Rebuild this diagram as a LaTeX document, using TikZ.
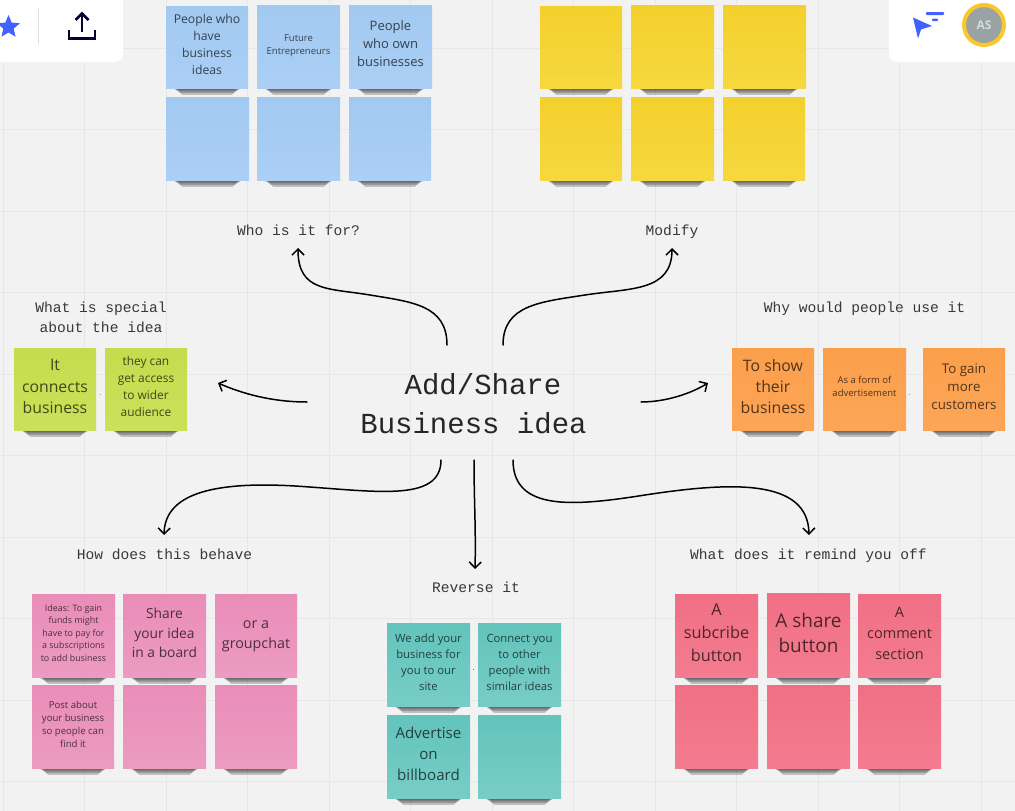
\documentclass[tikz,border=0pt]{standalone}
\usepackage{fontspec}
\setmainfont{Open Sans}
\setmonofont{Liberation Mono}
\usetikzlibrary{arrows.meta,shapes.geometric}
\definecolor{bgc}{HTML}{F2F2F2}
\definecolor{gridc}{HTML}{E7E7E7}
\definecolor{blueA}{HTML}{A2C9F1}\definecolor{blueB}{HTML}{ABCFF5}
\definecolor{yelA}{HTML}{F3D02C}\definecolor{yelB}{HTML}{F6D83E}
\definecolor{grnA}{HTML}{C5DC4E}\definecolor{grnB}{HTML}{CCE05A}
\definecolor{orgA}{HTML}{FB9F4B}\definecolor{orgB}{HTML}{FDA557}
\definecolor{pnkA}{HTML}{E98DB8}\definecolor{pnkB}{HTML}{EC9BC1}
\definecolor{tealA}{HTML}{62C4BC}\definecolor{tealB}{HTML}{77CDC6}
\definecolor{redA}{HTML}{F06F84}\definecolor{redB}{HTML}{F47C90}
\definecolor{iconblue}{HTML}{4262FF}
\definecolor{iconnavy}{HTML}{050038}
\definecolor{ringc}{HTML}{FAC82D}
\definecolor{avatarc}{HTML}{9AA3A3}
\tikzset{
  fs/.style 2 args={font=\fontsize{#1}{#2}\selectfont},
  note/.style 2 args={top color=#1,bottom color=#2,inner sep=0pt},
  notetext/.style={inner sep=0pt,align=center,text=black,text opacity=.68,yshift=2.5pt},
  bluenote/.style={note={blueA}{blueB}},
  yellownote/.style={note={yelA}{yelB}},
  greennote/.style={note={grnA}{grnB}},
  orangenote/.style={note={orgA}{orgB}},
  pinknote/.style={note={pnkA}{pnkB}},
  tealnote/.style={note={tealA}{tealB}},
  rednote/.style={note={redA}{redB}},
  heading/.style={font=\ttfamily\fontsize{14.6}{20}\selectfont,text=black!78,align=center,inner sep=0pt},
  title/.style={font=\ttfamily\fontsize{29}{39}\selectfont,text=black!85,inner sep=0pt},
  link/.style={draw=black,line width=1.5pt,line cap=round,-{Straight Barb[length=6pt,width=12pt,line width=1.5pt]}},
  panel/.style={fill=white,rounded corners=8pt},
  speck/.style={fill=black!40},
  shadowstrip/.style={fill=black,opacity=.2}
}
\newcommand\shadowlayer[4]{% x0 x1 y1 layer
  \fill[shadowstrip] ({#1+#4*2+2},{#3-1}) -- ({#1+#4*2+8},{#3+#4*1.7}) -- ({#2-#4*2-8},{#3+#4*1.7}) -- ({#2-#4*2-2},{#3-1}) -- cycle;
}
\newcommand\sticky[8]{%
  \shadowlayer{#2}{#4}{#5}{1}
  \shadowlayer{#2}{#4}{#5}{2}
  \shadowlayer{#2}{#4}{#5}{3}
  \shadowlayer{#2}{#4}{#5}{4}
  \node[#6,minimum width={(#4-#2)*1pt},minimum height={(#5-#3)*1pt}] (#1) at ({(#2+#4)/2},{(#3+#5)/2}) {};
  \if\relax\detokenize{#8}\relax\else
    \node[notetext,#7] (#1text) at (#1.center) {#8};
  \fi
}
\begin{document}
\begin{tikzpicture}[x=1pt,y=-1pt]
\useasboundingbox (0,0) rectangle (1015,811);
\begin{scope}
\clip (0,0) rectangle (1015,811);
\fill[bgc] (0,0) rectangle (1015,811);
\foreach \k in {0,...,12} \draw[gridc,line width=.8pt] ({3+81.5*\k},0) -- ({3+81.5*\k},811);
\foreach \k in {0,...,9} \draw[gridc,line width=.8pt] (0,{48+81.5*\k}) -- (1015,{48+81.5*\k});
% toolbars
\fill[panel] (-12,-12) rectangle (123,62);
\fill[panel] (889,-12) rectangle (1027,62);
\node[star,star points=5,star point ratio=2.2,fill=iconblue,minimum size=24pt,inner sep=0pt] (favstar) at (8.5,27) {};
\draw[black!12,line width=.8pt] (38.5,8) -- (38.5,44);
\draw[iconnavy,line width=2.6pt] (69,30) -- (69,38.5) -- (95,38.5) -- (95,30);
\draw[iconnavy,line width=2.6pt] (82,32) -- (82,14);
\draw[iconnavy,line width=2.6pt] (75.5,20) -- (82,13.5) -- (88.5,20);
\fill[iconblue] (913,17.5) -- (932,26) -- (921,29.5) -- (918,38.5) -- cycle;
\fill[iconblue,rounded corners=.8pt] (926,12) rectangle (944,15);
\fill[iconblue,rounded corners=.8pt] (932,18.5) rectangle (938,21);
\node[circle,fill=avatarc,draw=ringc,line width=4pt,minimum size=40pt,inner sep=0pt,text=white,text opacity=.6,font=\bfseries\fontsize{12}{14}\selectfont] (avatar) at (984,25) {AS};
% blue
\sticky{b1}{166}{6}{248}{88}{bluenote}{fs={12.2}{17.2}}{People who\\have\\business\\ideas}
\sticky{b2}{257}{5}{340}{88}{bluenote}{fs={9.5}{13.2},yshift=-2pt}{Future\\Entrepreneurs}
\sticky{b3}{349}{5}{432}{88}{bluenote}{fs={13}{18}}{People\\who own\\businesses}
\sticky{b4}{166}{97}{249}{180}{bluenote}{}{}
\sticky{b5}{257}{97}{340}{180}{bluenote}{}{}
\sticky{b6}{349}{97}{431}{180}{bluenote}{}{}
% yellow
\sticky{y1}{540}{6}{622}{88}{yellownote}{}{}
\sticky{y2}{631}{5}{714}{88}{yellownote}{}{}
\sticky{y3}{723}{5}{806}{88}{yellownote}{}{}
\sticky{y4}{540}{97}{622}{180}{yellownote}{}{}
\sticky{y5}{631}{97}{714}{180}{yellownote}{}{}
\sticky{y6}{723}{97}{805}{180}{yellownote}{}{}
% green
\sticky{g1}{14}{348}{96}{430}{greennote}{fs={15.8}{21.3}}{It\\connects\\business}
\sticky{g2}{105}{348}{187}{430}{greennote}{fs={11.9}{17.2}}{they can\\get access\\to wider\\audience}
% orange
\sticky{o1}{732}{348}{814}{430}{orangenote}{fs={15.8}{21.3}}{To show\\their\\business}
\sticky{o2}{823}{348}{906}{430}{orangenote}{fs={9.5}{13}}{As a form of\\advertisement}
\sticky{o3}{923}{348}{1005}{430}{orangenote}{fs={13.3}{18}}{To gain\\more\\customers}
% pink
\sticky{p1}{32}{594}{115}{677}{pinknote}{fs={8.9}{12.4}}{Ideas: To gain\\funds might\\have to pay for\\a subscriptions\\to add business}
\sticky{p2}{123}{594}{206}{677}{pinknote}{fs={13.8}{19.5}}{Share\\your idea\\in a board}
\sticky{p3}{215}{594}{297}{677}{pinknote}{fs={14.3}{20},yshift=-3.5pt}{or a\\groupchat}
\sticky{p4}{32}{685}{114}{768}{pinknote}{fs={9.6}{13}}{Post about\\your business\\so people can\\find it}
\sticky{p5}{123}{685}{206}{768}{pinknote}{}{}
\sticky{p6}{215}{685}{297}{768}{pinknote}{}{}
% teal
\sticky{t1}{387}{623}{470}{706}{tealnote}{fs={11.3}{16}}{We add your\\business for\\you to our\\site}
\sticky{t2}{478}{623}{561}{706}{tealnote}{fs={11.3}{16}}{Connect you\\to other\\people with\\similar ideas}
\sticky{t3}{387}{715}{470}{798}{tealnote}{fs={15.1}{20.7}}{Advertise\\on\\billboard}
\sticky{t4}{478}{715}{561}{798}{tealnote}{}{}
% red
\sticky{r1}{675}{594}{758}{677}{rednote}{fs={16.3}{23}}{A\\subcribe\\button}
\sticky{r2}{767}{593}{850}{677}{rednote}{fs={19}{25}}{A share\\button}
\sticky{r3}{858}{594}{941}{677}{rednote}{fs={14.5}{21}}{A\\comment\\section}
\sticky{r4}{675}{685}{758}{768}{rednote}{}{}
\sticky{r5}{767}{685}{850}{768}{rednote}{}{}
\sticky{r6}{858}{685}{941}{768}{rednote}{}{}
% specks
\fill[speck] (99.5,393.5) rectangle (101,395);
\fill[speck] (908.5,393.5) rectangle (910,395);
\fill[black!60] (472.5,668.5) rectangle (474,670);
% headings
\node[heading] (hwho) at (298.5,230) {Who is it for?};
\node[heading] (hmod) at (672,232) {Modify};
\node[heading] (hspecial) at (101,317) {What is special\\about the idea};
\node[heading] (hwhy) at (864.5,309) {Why would people use it};
\node[heading] (hbehave) at (164.5,554) {How does this behave};
\node[heading] (hrev) at (476,587) {Reverse it};
\node[heading] (hremind) at (808.5,556) {What does it remind you off};
\node[title,anchor=base] (maina) at (483,394) {Add/Share};
\node[title,anchor=base] (mainb) at (473.5,433) {Business idea};
% connector ends
\coordinate (sa) at (447,345); \coordinate (ea) at (298,248);
\coordinate (sb) at (503,345); \coordinate (eb) at (672,248);
\coordinate (sc) at (307,402); \coordinate (ec) at (218,383);
\coordinate (sd) at (641,402); \coordinate (ed) at (708,383);
\coordinate (se) at (441,460); \coordinate (ee) at (164,535);
\coordinate (sf) at (474,460); \coordinate (ef) at (475,569);
\coordinate (sg) at (513,460); \coordinate (eg) at (809,535);
\draw[link] (sa) .. controls (447,305) and (412,302) .. (370,295) .. controls (328,288) and (298,292) .. (ea);
\draw[link] (sb) .. controls (503,305) and (540,302) .. (585,295) .. controls (630,288) and (672,292) .. (eb);
\draw[link] (sc) .. controls (280,402) and (250,397) .. (ec);
\draw[link] (sd) .. controls (665,402) and (690,394) .. (ed);
\draw[link] (se) .. controls (441,503) and (375,491) .. (295,486) .. controls (210,481) and (165,495) .. (ee);
\draw[link] (sf) .. controls (474,500) and (476,530) .. (ef);
\draw[link] (sg) .. controls (513,512) and (575,506) .. (645,495) .. controls (730,482) and (808,478) .. (eg);
\end{scope}
\end{tikzpicture}
\end{document}
